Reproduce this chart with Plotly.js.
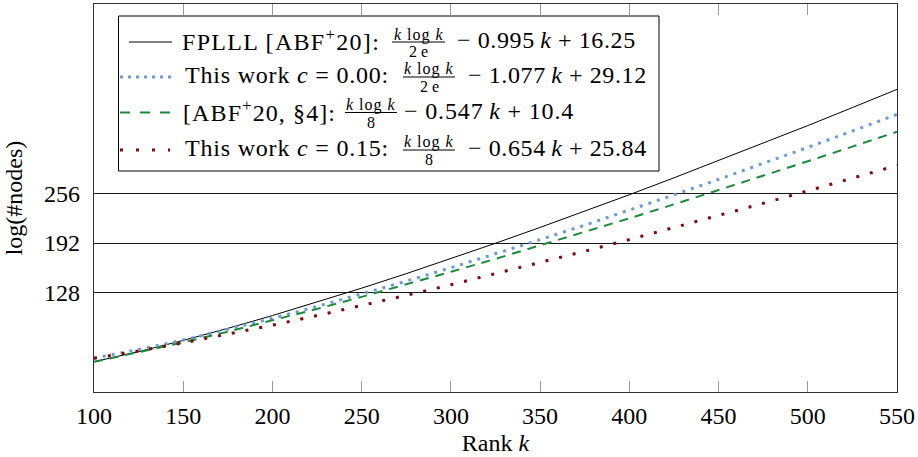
<!DOCTYPE html>
<html>
<head>
<meta charset="utf-8">
<script src="https://cdn.plot.ly/plotly-3.0.1.min.js"></script>
<style>html,body{margin:0;padding:0;background:#fff;}#chart{width:918px;height:457px;}</style>
</head>
<body>
<div id="chart"></div>
<script>
// ---- data ----
const rankK = [100,125,150,175,200,225,250,275,300,325,350,375,400,425,450,475,500,525,550];
const fplll = [39.0,52.0,66.5,82.0,98.5,115.8,133.8,152.5,171.8,191.7,212.1,232.9,254.2,276.0,298.1,320.5,343.3,366.5,390.0];
const thisWorkC000 = [43.6,54.7,67.0,80.5,94.9,110.2,126.2,142.8,160.1,177.9,196.3,215.0,234.3,254.0,274.0,294.4,315.2,336.3,357.7];
const abfSec4 = [38.8,50.9,63.9,77.7,92.1,107.1,122.6,138.5,154.9,171.6,188.7,206.1,223.8,241.8,260.0,278.5,297.3,316.2,335.4];
const thisWorkC015 = [43.5,52.9,63.3,74.4,86.1,98.5,111.3,124.5,138.2,152.3,166.7,181.4,196.4,211.7,227.3,243.1,259.2,275.5,292.0];

const xTickVals = [100,150,200,250,300,350,400,450,500,550];
const yTickVals = [128,192,256];

const seriesNames = ["FPLLL [ABF<sup>+</sup>20]:", "This work <i>c</i> = 0.00:", "[ABF<sup>+</sup>20, §4]:", "This work <i>c</i> = 0.15:"];
const fracNum = ["<i>k</i> log <i>k</i>", "<i>k</i> log <i>k</i>", "<i>k</i> log <i>k</i>", "<i>k</i> log <i>k</i>"];
const fracDen = ["2 e", "2 e", "8", "8"];
const fracTail = ["− 0.995\u2009<i>k</i> + 16.25", "− 1.077\u2009<i>k</i> + 29.12", "− 0.547\u2009<i>k</i> + 10.4", "− 0.654\u2009<i>k</i> + 25.84"];

// ---- styles ----
const colors = ["#000000", "#6a9bd6", "#1b8a3d", "#7f0a0a"];
const widths = [1, 3, 2, 3];
const dashes = ["solid", "3px,6px", "9px,7px", "3px,11px"];
const legendDashes = ["solid", "3px,5px", "10px,10px", "3px,13px"];

const M = {l:94, r:21, t:4, b:65};
const W = 918, H = 457;
const PW = W - M.l - M.r, PH = H - M.t - M.b;
const px = x => (x - M.l) / PW;
const py = y => (H - M.b - y) / PH;

const ys = [fplll, thisWorkC000, abfSec4, thisWorkC015];
const traces = ys.map((y, i) => ({
  type: 'scatter', mode: 'lines', x: rankK, y: y,
  name: seriesNames[i],
  line: {color: colors[i], width: widths[i], dash: dashes[i]},
  hoverinfo: 'skip'
}));

// legend geometry (pixels)
const rowBase = [48, 83, 118.5, 156];
const sampleX = [[129,172],[120,175],[120,170],[120,170]];
const textX = [181, 184, 182, 184];
const textSpacing = [1.3, 0.8, 1.1, 0.8];
const fracX = [[392,445],[403,455],[345,397],[403,455]];
const tailX = [456, 467, 403, 467];
const tailSpacing = [0.6, 0.6, 0.85, 0.6];

const FONT = '"Liberation Serif", "Times New Roman", serif';
const spaced = (t, s) => '<span style="letter-spacing:' + s + 'px">' + t + '</span>';
const shapes = [{
  type:'rect', xref:'paper', yref:'paper', x0:px(118.5), x1:px(659), y0:py(16), y1:py(171),
  line:{color:'#000', width:1}, fillcolor:'#fff', layer:'above'
}];
const annotations = [];
for (let i = 0; i < 4; i++) {
  const B = rowBase[i];
  shapes.push({type:'line', xref:'paper', yref:'paper', x0:px(sampleX[i][0]), x1:px(sampleX[i][1]),
    y0:py(B-6), y1:py(B-6), line:{color:colors[i], width:widths[i], dash:legendDashes[i]}, layer:'above'});
  shapes.push({type:'line', xref:'paper', yref:'paper', x0:px(fracX[i][0]), x1:px(fracX[i][1]),
    y0:py(B-6), y1:py(B-6), line:{color:'#000', width:1}, layer:'above'});
  const base = {xref:'paper', yref:'paper', showarrow:false, borderpad:0, yanchor:'middle'};
  annotations.push(Object.assign({}, base, {x:px(textX[i]), y:py(B-8), xanchor:'left', text:spaced(seriesNames[i], textSpacing[i]), font:{family:FONT, size:24, color:'#000'}}));
  const cx = (fracX[i][0] + fracX[i][1]) / 2;
  annotations.push(Object.assign({}, base, {x:px(cx), y:py(B-13.5), xanchor:'center', text:spaced(fracNum[i], 1.0), font:{family:FONT, size:16, color:'#000'}}));
  annotations.push(Object.assign({}, base, {x:px(cx), y:py(B+3.5), xanchor:'center', text:fracDen[i], font:{family:FONT, size:16, color:'#000'}}));
  annotations.push(Object.assign({}, base, {x:px(tailX[i]), y:py(B-8), xanchor:'left', text:spaced(fracTail[i], tailSpacing[i]), font:{family:FONT, size:24, color:'#000'}}));
}

const layout = {
  width: W, height: H,
  margin: M,
  paper_bgcolor: '#fff', plot_bgcolor: '#fff',
  showlegend: false,
  font: {family: FONT, size: 24, color: '#000'},
  xaxis: {
    range: [100, 550], tickmode: 'array', tickvals: xTickVals,
    ticks: 'inside', ticklen: 11, tickcolor: '#9a9a9a', tickwidth: 1,
    showline: true, linecolor: '#333', linewidth: 1.2, mirror: 'ticks',
    showgrid: false, zeroline: false, ticklabelstandoff: 2,
    tickfont: {family: FONT, size: 24, color: '#000'},
    title: {text: 'Rank <i>k</i>', font: {family: FONT, size: 24, color: '#000'}, standoff: 6}
  },
  yaxis: {
    range: [0, 500], tickmode: 'array', tickvals: yTickVals,
    ticks: '', showline: true, linecolor: '#333', linewidth: 1.2, mirror: true,
    showgrid: true, gridcolor: '#1a1a1a', gridwidth: 1, zeroline: false,
    ticklabelstandoff: 8,
    tickfont: {family: FONT, size: 24, color: '#000'},
    title: {text: 'log(#nodes)', font: {family: FONT, size: 24, color: '#000'}, standoff: 14}
  },
  shapes: shapes,
  annotations: annotations
};

Plotly.newPlot('chart', traces, layout, {staticPlot: true, displayModeBar: false});
</script>
</body>
</html>
